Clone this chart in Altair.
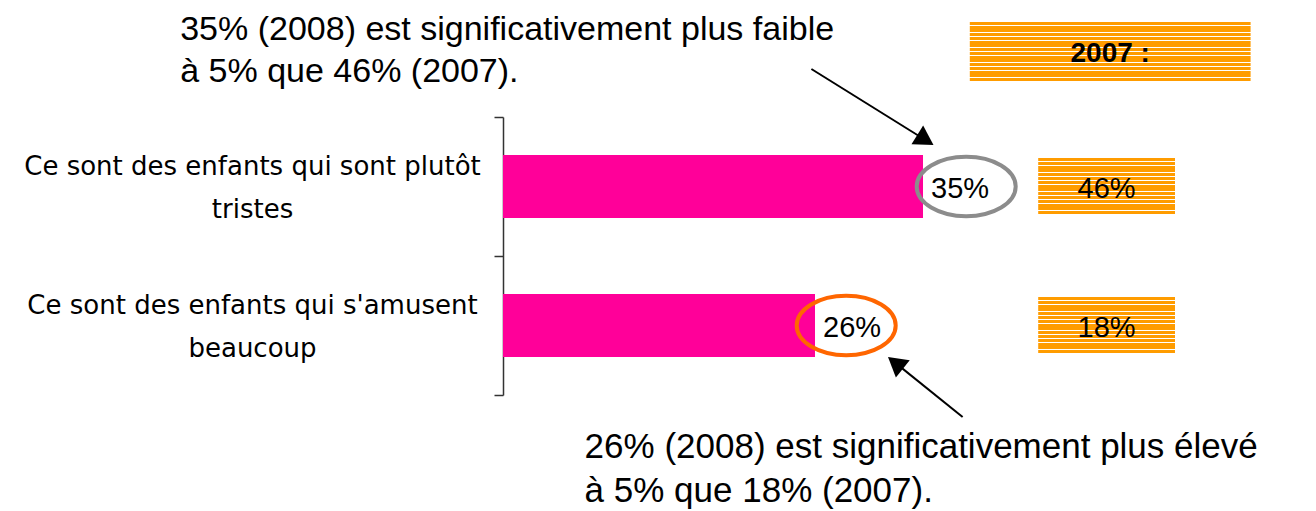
import altair as alt
import pandas as pd

# ---- data ----
categories = [
    "Ce sont des enfants qui sont plutôt|tristes",
    "Ce sont des enfants qui s'amusent|beaucoup",
]
values_2008 = [35, 26]
labels_2008 = ["35%", "26%"]
values_2007 = [46, 18]
labels_2007 = ["46%", "18%"]
header_label = "2007 :"
note_top = "35% (2008) est significativement plus faible\nà 5% que 46% (2007)."
note_bottom = "26% (2008) est significativement plus élevé\nà 5% que 18% (2007)."

# annotation anchors in x-axis units (%)
ellipse_x = [38.6, 28.6]
ellipse_col = ["#8C8C8C", "#FF6600"]
box_x0 = [44.6, 44.6]
box_x1 = [56.0, 56.0]
box_xc = [50.3, 50.3]
header_x0, header_x1, header_xc = 38.9, 62.3, 50.6
note_top_x, note_bottom_x = -26.9, 6.8
arrow1 = dict(x0=25.7, x1=35.2)
arrow2 = dict(x0=38.3, x1=32.7)

PINK = "#FF0099"
ORANGE = "#FF9C00"


def stripes(n):
    stops = []
    for i in range(n):
        a = i / n
        b = (i + 0.78) / n
        c = (i + 1) / n
        stops += [
            alt.GradientStop(color=ORANGE, offset=a),
            alt.GradientStop(color=ORANGE, offset=b),
            alt.GradientStop(color="white", offset=b),
            alt.GradientStop(color="white", offset=c),
        ]
    return alt.Gradient(gradient="linear", stops=stops, x1=0, x2=0, y1=0, y2=1)


df = pd.DataFrame({
    "cat": categories,
    "v2008": values_2008,
    "l2008": labels_2008,
    "l2007": labels_2007,
    "ex": ellipse_x,
    "ec": ellipse_col,
    "bx0": box_x0,
    "bx1": box_x1,
    "bxc": box_xc,
})

xscale = alt.Scale(domain=[0, 66], nice=False, zero=True)
yaxis = alt.Axis(
    title=None,
    labelExpr="split(datum.label, '|')",
    labelAlign="center",
    labelBaseline="middle",
    labelOffset=-20,
    labelPadding=242,
    labelFont="DejaVu Sans",
    labelFontSize=26,
    labelLineHeight=43,
    labelColor="black",
    labelLimit=0,
    tickBand="extent",
    tickSize=9,
    tickWidth=1.5,
    tickColor="#333333",
    domainColor="#333333",
    domainWidth=1.5,
    grid=False,
)
yscale = alt.Scale(paddingInner=0, paddingOuter=0)
Y = alt.Y("cat:N", sort=categories, scale=yscale, axis=yaxis)

base = alt.Chart(df)

bars = base.mark_bar(color=PINK, height={"band": 0.453}).encode(
    x=alt.X("v2008:Q", scale=xscale, axis=None), y=Y
)
vlabels = base.mark_text(
    align="left", baseline="middle", dx=8, dy=2, fontSize=29, font="Liberation Sans", color="black"
).encode(x="v2008:Q", y=Y, text="l2008:N")

ell_path = "M-1,0 A1,0.6 0 1,1 1,0 A1,0.6 0 1,1 -1,0 Z"
ellipses = base.mark_point(shape=ell_path, size=9800, filled=False, strokeWidth=4, opacity=1).encode(
    x="ex:Q", y=Y, color=alt.Color("ec:N", scale=None)
)

boxes = base.mark_bar(height=57, color=stripes(15)).encode(x="bx0:Q", x2="bx1:Q", y=Y)
blabels = base.mark_text(
    align="center", baseline="middle", dy=2, fontSize=29, font="Liberation Sans", color="black"
).encode(x="bxc:Q", y=Y, text="l2007:N")

hdr = pd.DataFrame({"cat": [categories[0]], "x0": [header_x0], "x1": [header_x1], "xc": [header_xc], "t": [header_label]})
hbox = alt.Chart(hdr).mark_bar(height=60, yOffset=-134.5, color=stripes(16)).encode(x="x0:Q", x2="x1:Q", y=Y)
htext = alt.Chart(hdr).mark_text(
    align="center", baseline="middle", yOffset=-132.5, fontSize=28, fontWeight="bold", font="Liberation Sans", color="black"
).encode(x="xc:Q", y=Y, text="t:N")

notes = pd.DataFrame({"cat": categories, "x": [note_top_x, note_bottom_x], "t": [note_top, note_bottom]})
ntop = alt.Chart(notes.iloc[[0]]).mark_text(
    align="left", baseline="alphabetic", lineBreak="\n", lineHeight=42, yOffset=-147,
    fontSize=34, font="Liberation Sans", color="black"
).encode(x="x:Q", y=Y, text="t:N")
nbot = alt.Chart(notes.iloc[[1]]).mark_text(
    align="left", baseline="alphabetic", lineBreak="\n", lineHeight=44, yOffset=132.5,
    fontSize=35, font="Liberation Sans", color="black"
).encode(x="x:Q", y=Y, text="t:N")

a1 = pd.DataFrame({"cat": [categories[0]], "x0": [arrow1["x0"]], "x1": [arrow1["x1"]]})
a2 = pd.DataFrame({"cat": [categories[1]], "x0": [arrow2["x0"]], "x1": [arrow2["x1"]]})
r1 = alt.Chart(a1).mark_rule(color="black", strokeWidth=2, yOffset=-117.5, y2Offset=-46.5).encode(
    x="x0:Q", x2="x1:Q", y=Y, y2="cat:N"
)
t1 = alt.Chart(a1).mark_point(shape="triangle-up", size=484, filled=True, color="black", opacity=1,
                              angle=122, yOffset=-46.5).encode(x="x1:Q", y=Y)
r2 = alt.Chart(a2).mark_rule(color="black", strokeWidth=2, yOffset=91.5, y2Offset=37.4).encode(
    x="x0:Q", x2="x1:Q", y=Y, y2="cat:N"
)
t2 = alt.Chart(a2).mark_point(shape="triangle-up", size=484, filled=True, color="black", opacity=1,
                              angle=309, yOffset=37.4).encode(x="x1:Q", y=Y)

chart = alt.layer(
    bars, vlabels, ellipses, boxes, blabels, hbox, htext, ntop, nbot, r1, t1, r2, t2
).properties(
    width=792, height=278,
    autosize=alt.AutoSizeParams(type="none"),
    padding={"left": 495, "top": 109, "right": 13, "bottom": 116},
    background="white",
).configure_view(stroke=None)

chart.save("out.html", embed_options={"renderer": "svg", "actions": False})
